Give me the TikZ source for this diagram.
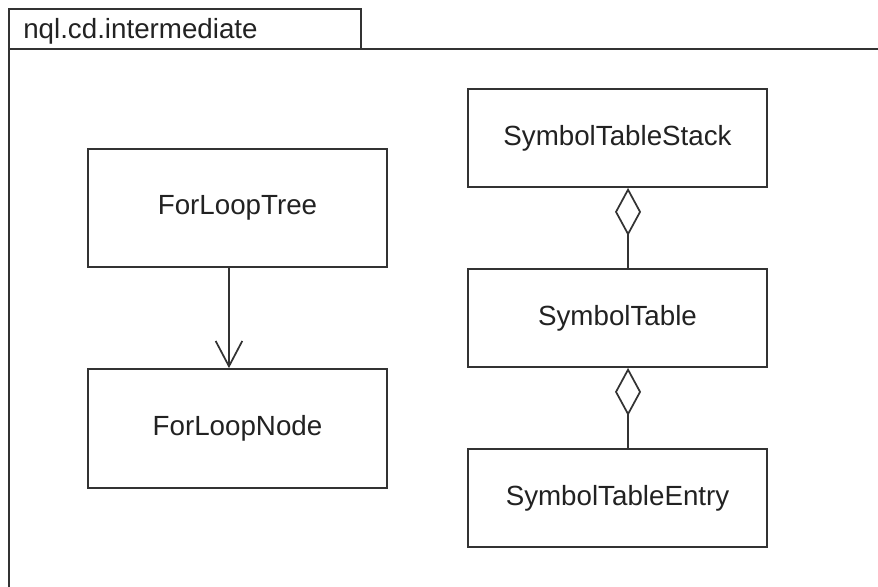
\documentclass[tikz,border=0pt]{standalone}
\usepackage{fontspec}
\setmainfont{Liberation Sans}
\usetikzlibrary{arrows.meta}
\definecolor{ln}{HTML}{333333}
\definecolor{tx}{HTML}{222222}
\begin{document}
\begin{tikzpicture}[x=0.75pt,y=-0.75pt,
  cls/.style={draw=ln,line width=1.3pt,fill=white,inner sep=0pt,font=\fontsize{20.8}{24}\selectfont,text=tx},
  wide/.style={cls,minimum width=299*0.75pt},
  conn/.style={draw=ln,line width=1.3pt},
  aggr/.style={conn,{Diamond[open,length=36pt,width=19.5pt,fill=white]}-},
  assoc/.style={conn,-{Straight Barb[length=19pt,width=20pt]}}]
\useasboundingbox (0,0) rectangle (878,586);
\fill[white] (0,0) rectangle (878,586);
% package frame
\draw[ln,line width=1.3pt] (9,600) -- (9,49) -- (890,49);
\draw[ln,line width=1.3pt] (9,49) -- (9,9) -- (361,9) -- (361,49);
\node[anchor=base west,inner sep=0pt,font=\fontsize{20.8}{24}\selectfont,text=tx] (pkg) at (23,38) {nql.cd.intermediate};
% classes
\node[wide,minimum height=118*0.75pt] (ftree) at (237.5,208) {ForLoopTree};
\node[wide,minimum height=119*0.75pt] (fnode) at (237.5,428.5) {ForLoopNode};
\node[wide,minimum height=98*0.75pt] (stack) at (617.5,138) {SymbolTableStack};
\node[wide,minimum height=98*0.75pt] (table) at (617.5,318) {SymbolTable};
\node[wide,minimum height=98*0.75pt] (entry) at (617.5,498) {SymbolTableEntry};
% connectors
\draw[assoc] ([xshift=-6.4pt]ftree.south) -- ([xshift=-6.4pt]fnode.north);
\draw[aggr] ([xshift=7.9pt]stack.south) -- ([xshift=7.9pt]table.north);
\draw[aggr] ([xshift=7.9pt]table.south) -- ([xshift=7.9pt]entry.north);
\end{tikzpicture}
\end{document}
